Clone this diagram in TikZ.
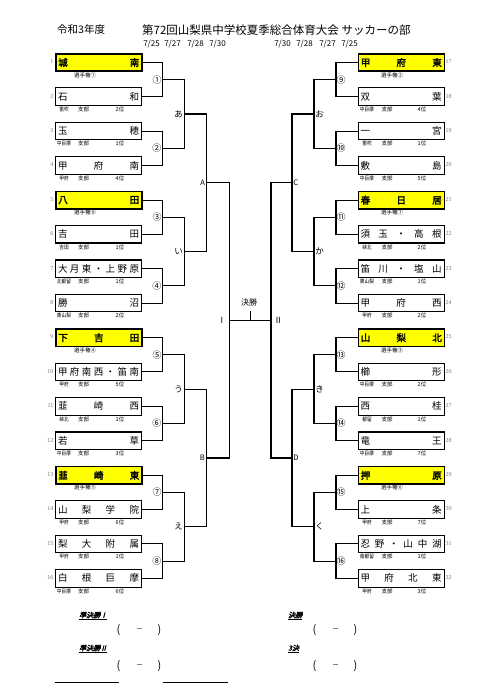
\documentclass[tikz,border=0pt]{standalone}
\usepackage{fontspec}
\usepackage{graphicx}
\setmainfont{Noto Sans CJK JP}
\newfontfamily\jpb[FakeBold=2.5]{Noto Sans CJK JP}
\newfontfamily\jpbi[FakeBold=2.5,FakeSlant=0.25]{Noto Sans CJK JP}
\newfontfamily\numf{Liberation Serif}
\usetikzlibrary{calc}
\definecolor{seedy}{RGB}{255,255,0}
\definecolor{numgray}{RGB}{120,120,120}
\makeatletter
\def\dist#1{\dist@a#1\relax}
\def\dist@a#1{#1\dist@b}
\def\dist@b#1{\ifx#1\relax\else\hfill#1\expandafter\dist@b\fi}
\makeatother
\newcommand\tnm[1]{\hbox to 81pt{\expandafter\dist\expandafter{#1}}}
\tikzset{
  teambox/.style={draw, line width=1.1pt, minimum width=86pt, minimum height=17.5pt, inner sep=0pt, anchor=north west, font=\fontsize{9.5}{10}\selectfont},
  seedbox/.style={teambox, fill=seedy, line width=1.6pt, font=\fontsize{9.5}{10}\selectfont\jpb},
  conn/.style={line width=1.1pt},
  sub/.style={font=\fontsize{5.5}{6}\selectfont, inner sep=0pt},
  num/.style={font=\fontsize{6}{7}\selectfont\numf, text=numgray, inner sep=0pt},
  cnum/.style={font=\fontsize{9}{10}\selectfont, inner sep=0.5pt},
  rlab/.style={font=\fontsize{8.5}{10}\selectfont, inner sep=1.2pt},
  date/.style={font=\fontsize{8}{9}\selectfont, inner sep=0pt},
  blab/.style={font=\fontsize{7}{8}\selectfont\jpbi, inner sep=0pt, anchor=west},
  parn/.style={font=\fontsize{11}{12}\selectfont, inner sep=0pt},
  dsh/.style={font=\fontsize{7}{8}\selectfont, inner sep=0pt},
}
\begin{document}
\begin{tikzpicture}[x=1pt,y=-1pt]
\fill[white] (0,0) rectangle (490,692);
\useasboundingbox (0,0) rectangle (490,692);
% header
\node[anchor=west, inner sep=0pt, font=\fontsize{10.5}{12}\selectfont] (year) at (57,30) {令和3年度};
\node[anchor=west, inner sep=0pt, font=\fontsize{11.5}{13}\selectfont] (title) at (142,30) {第72回山梨県中学校夏季総合体育大会 サッカーの部};
\foreach \x/\d [count=\k] in {151.5/{7/25}, 172.5/{7/27}, 195.5/{7/28}, 217.5/{7/30}, 282.5/{7/30}, 304.5/{7/28}, 327.5/{7/27}, 349.5/{7/25}}{
  \node[date] (d\k) at (\x,44) {\d};
}
% left non-seeded teams
\foreach \i/\nm/\ar/\rk in {2/石和/笛吹/2位, 3/玉穂/中巨摩/1位, 4/甲府南/甲府/4位, 6/吉田/吉田/1位, 7/大月東・上野原/北都留/1位, 8/勝沼/東山梨/2位, 10/甲府南西・笛南/甲府/5位, 11/韮崎西/峡北/1位, 12/若草/中巨摩/3位, 14/山梨学院/甲府/6位, 15/梨大附属/甲府/1位, 16/白根巨摩/中巨摩/6位}{
  \pgfmathsetmacro\yt{53+(\i-1)*34.4}
  \node[teambox] (t\i) at (55,\yt) {\tnm{\nm}};
  \node[sub] (a\i) at (64,\yt+22) {\scalebox{0.85}[1]{\ar}};
  \node[sub] (b\i) at (83.5,\yt+22) {支部};
  \node[sub] (r\i) at (120,\yt+22) {\rk};
  \node[num, anchor=east] (n\i) at (53.5,\yt+8.75) {\i};
}
\foreach \i/\nm/\sd in {1/城南/①, 5/八田/⑧, 9/下吉田/④, 13/韮崎東/⑤}{
  \pgfmathsetmacro\yt{53+(\i-1)*34.4}
  \node[seedbox] (t\i) at (55,\yt) {\tnm{\nm}};
  \node[sub] (s\i) at (85,\yt+22) {選手権\sd};
  \node[num, anchor=east] (n\i) at (53.5,\yt+8.75) {\i};
}
% right non-seeded teams
\foreach \i/\nm/\ar/\rk in {18/双葉/中巨摩/4位, 19/一宮/笛吹/1位, 20/敷島/中巨摩/5位, 22/須玉・高根/峡北/2位, 23/笛川・塩山/東山梨/1位, 24/甲府西/甲府/2位, 26/櫛形/中巨摩/2位, 27/西桂/都留/1位, 28/竜王/中巨摩/7位, 30/上条/甲府/7位, 31/忍野・山中湖/南都留/1位, 32/甲府北東/甲府/3位}{
  \pgfmathsetmacro\yt{53+(\i-17)*34.4}
  \node[teambox] (t\i) at (357.5,\yt) {\tnm{\nm}};
  \node[sub] (a\i) at (367,\yt+22) {\scalebox{0.85}[1]{\ar}};
  \node[sub] (b\i) at (387,\yt+22) {支部};
  \node[sub] (r\i) at (422,\yt+22) {\rk};
  \node[num, anchor=west] (n\i) at (445.5,\yt+8.75) {\i};
}
\foreach \i/\nm/\sd in {17/甲府東/②, 21/春日居/⑦, 25/山梨北/③, 29/押原/⑥}{
  \pgfmathsetmacro\yt{53+(\i-17)*34.4}
  \node[seedbox] (t\i) at (357.5,\yt) {\tnm{\nm}};
  \node[sub] (s\i) at (392,\yt+22) {選手権\sd};
  \node[num, anchor=west] (n\i) at (445.5,\yt+8.75) {\i};
}
% left bracket
\foreach \m/\c in {1/①,2/②,3/③,4/④,5/⑤,6/⑥,7/⑦,8/⑧}{
  \pgfmathtruncatemacro\a{2*\m-1}\pgfmathtruncatemacro\b{2*\m}
  \coordinate (j\m) at ($(t\a.east)!0.5!(t\b.east)+(20,0)$);
  \draw[conn] (t\a.east) -| (j\m) |- (t\b.east);
  \node[cnum, anchor=east] (cj\m) at (j\m) {\c};
}
\foreach \m/\c in {9/⑨,10/⑩,11/⑪,12/⑫,13/⑬,14/⑭,15/⑮,16/⑯}{
  \pgfmathtruncatemacro\a{2*\m-1}\pgfmathtruncatemacro\b{2*\m}
  \coordinate (j\m) at ($(t\a.west)!0.5!(t\b.west)+(-21.5,0)$);
  \draw[conn] (t\a.west) -| (j\m) |- (t\b.west);
  \node[cnum, anchor=west] (cj\m) at (j\m) {\c};
}
\foreach \n/\c in {1/あ,2/い,3/う,4/え}{
  \pgfmathtruncatemacro\a{2*\n-1}\pgfmathtruncatemacro\b{2*\n}
  \coordinate (k\n) at ($(j\a)!0.5!(j\b)+(22,0)$);
  \draw[conn] (j\a) -| (k\n) |- (j\b);
  \node[rlab, anchor=east] (ck\n) at (k\n) {\c};
}
\foreach \n/\c in {5/お,6/か,7/き,8/く}{
  \pgfmathtruncatemacro\a{2*\n-1}\pgfmathtruncatemacro\b{2*\n}
  \coordinate (k\n) at ($(j\a)!0.5!(j\b)+(-22,0)$);
  \draw[conn] (j\a) -| (k\n) |- (j\b);
  \node[rlab, anchor=west] (ck\n) at (k\n) {\c};
}
\foreach \n/\c in {1/A,2/B}{
  \pgfmathtruncatemacro\a{2*\n-1}\pgfmathtruncatemacro\b{2*\n}
  \coordinate (l\n) at ($(k\a)!0.5!(k\b)+(22,0)$);
  \draw[conn] (k\a) -| (l\n) |- (k\b);
  \node[rlab, anchor=east, font=\fontsize{7.5}{9}\selectfont] (cl\n) at (l\n) {\c};
}
\foreach \n/\c in {3/C,4/D}{
  \pgfmathtruncatemacro\a{2*\n-1}\pgfmathtruncatemacro\b{2*\n}
  \coordinate (l\n) at ($(k\a)!0.5!(k\b)+(-22,0)$);
  \draw[conn] (k\a) -| (l\n) |- (k\b);
  \node[rlab, anchor=west, font=\fontsize{7.5}{9}\selectfont] (cl\n) at (l\n) {\c};
}
\coordinate (sI) at ($(l1)!0.5!(l2)+(23,0)$);
\coordinate (sII) at ($(l3)!0.5!(l4)+(-21,0)$);
\draw[conn] (l1) -| (sI) |- (l2);
\draw[conn] (l3) -| (sII) |- (l4);
\draw[conn] (sI) -- (sII);
\node[rlab, anchor=east, inner sep=3pt] (lI) at (sI) {Ⅰ};
\node[rlab, anchor=west, inner sep=3pt] (lII) at (sII) {Ⅱ};
\coordinate (fin) at ($(sI)!0.5!(sII)$);
\coordinate (fintop) at ($(fin)+(0,-9)$);
\draw[conn] (fin) -- (fintop);
\node[font=\fontsize{8}{9}\selectfont, inner sep=0pt] (kessho) at (249,302) {決勝};
% bottom results
\node[blab] (q1) at (79,616) {\underline{準決勝Ⅰ}};
\node[blab] (q2) at (79,649) {\underline{準決勝Ⅱ}};
\node[blab] (q3) at (288,616) {\underline{決勝}};
\node[blab] (q4) at (288,649) {\underline{3決}};
\foreach \k/\x/\y in {1/118.5/630, 2/118.5/666, 3/314.5/630, 4/314.5/666}{
  \node[parn] (pa\k) at (\x,\y) {(};
  \node[dsh] (pm\k) at (\x+21,\y) {－};
  \node[parn] (pb\k) at (\x+41,\y) {)};
}
\coordinate (u1a) at (55,682); \coordinate (u1b) at (119,682);
\coordinate (u2a) at (163,682); \coordinate (u2b) at (228,682);
\draw[line width=0.8pt] (u1a) -- (u1b);
\draw[line width=0.8pt] (u2a) -- (u2b);
\end{tikzpicture}
\end{document}
